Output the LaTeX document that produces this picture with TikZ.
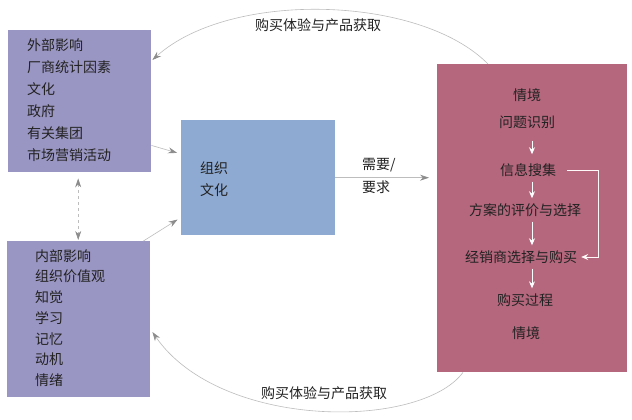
\documentclass[tikz,border=0pt]{standalone}
\usepackage{fontspec}
\setmainfont{Noto Sans CJK SC}
\usetikzlibrary{arrows.meta}
\definecolor{lavbox}{HTML}{9A96C3}
\definecolor{bluebox}{HTML}{8EAAD2}
\definecolor{pinkbox}{HTML}{B4677D}
\definecolor{txt}{HTML}{222222}
\definecolor{arcgray}{HTML}{BDBDBD}
\definecolor{tipgray}{HTML}{8C8C8C}
\tikzset{
  panel/.style={anchor=north west, inner sep=0pt, draw=none},
  lines/.style={anchor=west, align=left, inner sep=0pt, text=txt, font=\fontsize{14}{22}\selectfont},
  steptext/.style={inner sep=2pt, text=txt, font=\fontsize{14}{16}\selectfont},
  stepflow/.style={draw=white, line width=1pt, -{Stealth[length=7pt,width=6pt]}, shorten <=3pt, shorten >=3pt},
  loopback/.style={draw=white!90!pink, line width=0.9pt, -{Stealth[length=7pt,width=6pt]}},
  link/.style={draw=arcgray, line width=0.6pt, -{Stealth[length=9pt,width=6pt,color=tipgray]}},
  arclabel/.style={text=txt, font=\fontsize{14}{16}\selectfont, inner sep=1pt},
}
\begin{document}
\begin{tikzpicture}[x=1pt,y=-1pt]
\useasboundingbox[fill=white] (0,0) rectangle (632,420);

% boxes
\node[panel, fill=lavbox, minimum width=143pt, minimum height=142pt] (ext) at (8,30) {};
\node[panel, fill=lavbox, minimum width=143pt, minimum height=156pt] (int) at (7,241) {};
\node[panel, fill=bluebox, minimum width=154pt, minimum height=115pt] (org) at (181,120) {};
\node[panel, fill=pinkbox, minimum width=190pt, minimum height=308pt] (proc) at (437,64) {};

% left texts
\node[lines] (extt) at (27,100) {外部影响\\厂商统计因素\\文化\\政府\\有关集团\\市场营销活动};
\node[lines, font=\fontsize{14}{20.7}\selectfont] (intt) at (35,318) {内部影响\\组织价值观\\知觉\\学习\\记忆\\动机\\情绪};
\node[lines] (orgt) at (200,179) {组织\\文化};

% process steps
\node[steptext] (sit1) at (527,95) {情境};
\node[steptext] (iden) at (527,122) {问题识别};
\node[steptext] (info) at (528,170) {信息搜集};
\node[steptext] (eval) at (525,210) {方案的评价与选择};
\node[steptext] (deal) at (521,257) {经销商选择与购买};
\node[steptext] (buy) at (525,300) {购买过程};
\node[steptext] (sit2) at (526,333) {情境};

\draw[stepflow, shorten <=10pt, shorten >=7pt] ([xshift=5pt]iden.south) -- ([xshift=4pt]info.north);
\draw[stepflow] ([xshift=4pt]info.south) -- ([xshift=7pt]eval.north);
\draw[stepflow] ([xshift=7pt]eval.south) -- ([xshift=11pt]deal.north);
\draw[stepflow] ([xshift=11pt]deal.south) -- ([xshift=7pt]buy.north);
\draw[loopback] ([xshift=9pt]info.east) -- ([xshift=40pt]info.east) |- ([xshift=2pt]deal.east);

% needs arrow
\draw[link, shorten >=8pt] (org.east) -- (org.east -| proc.west);
\node[lines, font=\fontsize{14}{23}\selectfont] (need) at (362,176) {需要/\\要求};

% influences
\draw[link, shorten >=4pt] ([yshift=27pt]ext.south east) -- ([yshift=-34pt]org.north west);
\draw[link, shorten >=4pt] ([xshift=-7pt]int.north east) -- ([yshift=18pt]org.south west);
\draw[link, dashed, {Stealth[length=9pt,width=6pt,color=tipgray]}-{Stealth[length=9pt,width=6pt,color=tipgray]}, shorten <=6pt, shorten >=1pt] ([xshift=-1.5pt]ext.south) -- ([xshift=-0.5pt]int.north);

% feedback arcs
\draw[link] ([xshift=51pt]proc.north west) .. controls (420,-5) and (230,-10) .. ([xshift=1pt,yshift=-30pt]ext.north east);
\node[arclabel] (topl) at (318,25) {购买体验与产品获取};
\draw[link] ([xshift=26pt]proc.south west) .. controls (420,430) and (220,430) .. ([xshift=2pt,yshift=-91pt]int.north east);
\node[arclabel] (botl) at (324,393) {购买体验与产品获取};
\end{tikzpicture}
\end{document}
